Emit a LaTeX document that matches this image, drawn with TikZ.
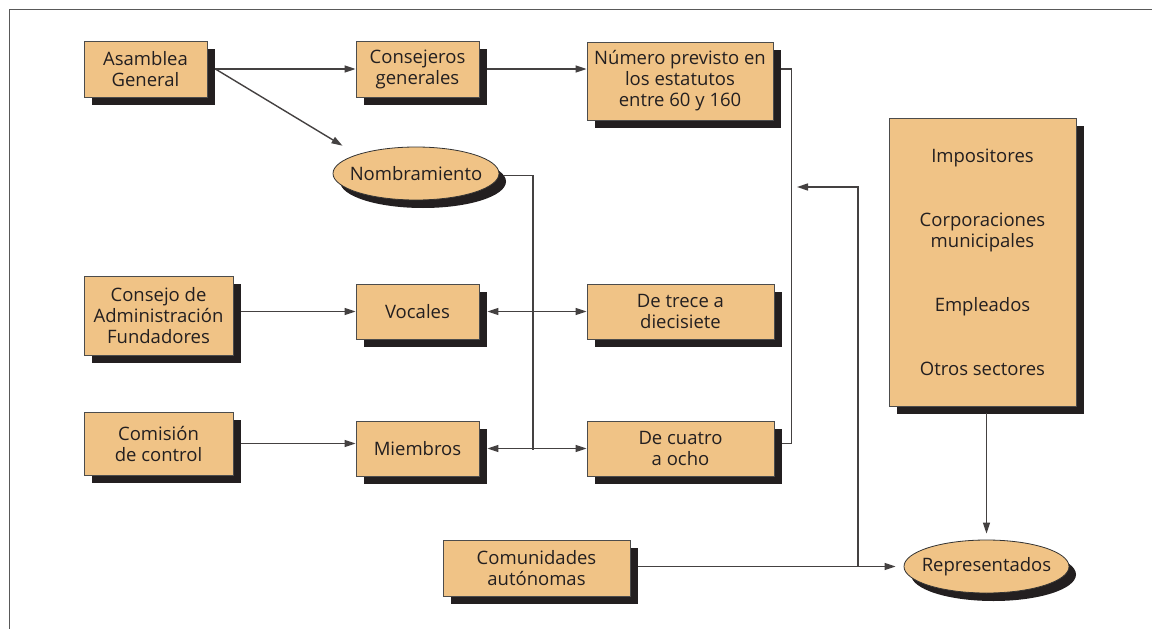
\documentclass[tikz,border=0pt]{standalone}
\usepackage{fontspec}
\setmainfont{Open Sans}
\usetikzlibrary{arrows.meta,shapes.geometric,shadows,calc}
\definecolor{boxfill}{HTML}{F0C386}
\definecolor{shadowc}{HTML}{231F20}
\definecolor{inkc}{HTML}{231F20}
\tikzset{
every picture/.style={
line width=1.3pt
}}

\begin{document}
\begin{tikzpicture}[x=1pt, y=-1pt, 
font=\fontsize{18.5}{21}\selectfont, text=inkc,
block/.style = {rectangle, draw=black!70, line width=0.8pt, fill=boxfill, align=center, inner sep=0pt,
  drop shadow={shadow xshift=8pt, shadow yshift=-8pt, fill=shadowc, opacity=1}},
oval/.style = {ellipse, draw=black!80, line width=0.8pt, fill=boxfill, inner sep=0pt,
  minimum width=166pt, minimum height=53pt,
  drop shadow={shadow xshift=7pt, shadow yshift=-8pt, fill=shadowc, opacity=1}},
line/.style = {draw=inkc!85, line width=1.4pt},
arr/.style = {line, -{Triangle[length=11pt,width=7pt]}},
dbl/.style = {line, {Triangle[length=11pt,width=7pt]}-{Triangle[length=11pt,width=7pt]}}]

\useasboundingbox (0,0) rectangle (1152,629);
\draw [black!65, line width=1.6pt] (9.5,629) |- (1152,9.5);

% first row
\node [block, minimum width=123pt, minimum height=56pt] (asamblea) at (145.5,69) {Asamblea\\General};
\node [block, minimum width=123pt, minimum height=56pt] (consejeros) at (417.5,69) {Consejeros\\generales};
\node [block, minimum width=186pt, minimum height=78pt] (numero) at (680,81) {Número previsto en\\los estatutos\\entre 60 y 160};
\node [oval] (nombra) at (416,173.5) {\makebox[0pt]{Nombramiento}};

% left column
\node [block, minimum width=149pt, minimum height=79pt] (consejo) at (158.5,315.5) {Consejo de\\Administración\\Fundadores};
\node [block, minimum width=149pt, minimum height=63pt] (comision) at (158.5,443.5) {Comisión\\de control};
\node [block, minimum width=123pt, minimum height=55pt] (vocales) at (417.5,311.5) {Vocales};
\node [block, minimum width=123pt, minimum height=55pt] (miembros) at (417.5,448.5) {Miembros};
\node [block, minimum width=187pt, minimum height=55pt] (trece) at (680.5,311.5) {De trece a\\diecisiete};
\node [block, minimum width=187pt, minimum height=55pt] (cuatro) at (680.5,448.5) {De cuatro\\a ocho};

% bottom and right
\node [block, minimum width=187pt, minimum height=56pt] (comunidades) at (536.5,568) {Comunidades\\autónomas};
\node [oval, minimum width=165pt] (repres) at (986.5,566.5) {\makebox[0pt]{Representados}};
\node [block, minimum width=187pt, minimum height=288pt] (sectores) at (982.5,262)
  {Impositores\\[43pt] Corporaciones\\municipales\\[43pt] Empleados\\[43pt] Otros sectores};

\coordinate (mjoin) at (533,450);
\coordinate (cjoin) at (858,566);
\coordinate (ljoin) at (797,187);

\draw [arr] ([xshift=8pt]asamblea.east) -- (consejeros.west |- asamblea.east);
\draw [arr, shorten >=17pt] ([xshift=8pt]asamblea.east) -- (nombra.north west);
\draw [arr] ([xshift=8pt]consejeros.east) -- (numero.west |- consejeros.east);
\draw [line] ([xshift=8pt]numero.east |- consejeros.east) -- ++(10pt,0) |- ([xshift=8pt]cuatro.east |- comision.east);
\draw [line] ([xshift=5pt,yshift=-2pt]nombra.east) -| (mjoin);

\draw [arr] ([xshift=8pt]consejo.east |- vocales.west) -- (vocales.west);
\draw [arr] ([xshift=8pt]comision.east) -- (miembros.west |- comision.east);
\draw [dbl] ([xshift=8pt]vocales.east) -- (trece.west);
\draw [dbl] ([xshift=8pt]miembros.east) -- (cuatro.west);

\draw [arr, shorten >=8pt] ([xshift=8pt]comunidades.east |- repres.west) -- (repres.west);
\draw [arr] (cjoin) |- (ljoin);
\draw [arr, shorten <=7pt, shorten >=6pt] (repres.north |- sectores.south) -- (repres.north);

\end{tikzpicture}
\end{document}
